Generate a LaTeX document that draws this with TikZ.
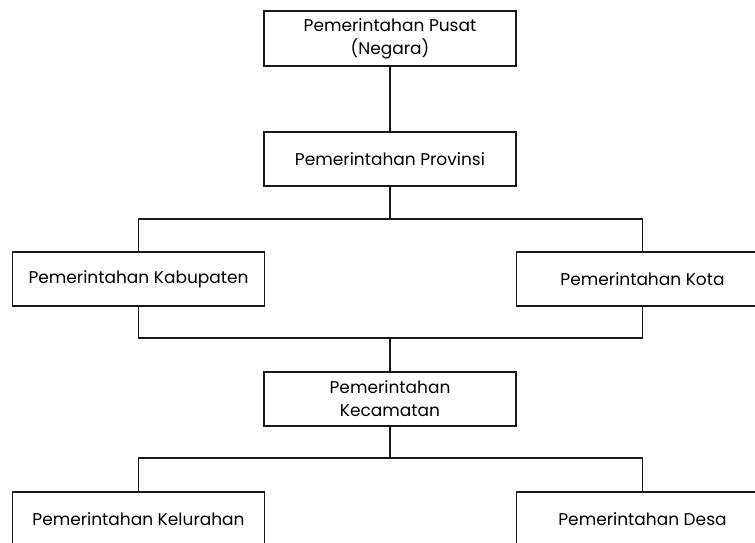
\documentclass[tikz,border=0pt]{standalone}
\usepackage{fontspec}
\setmainfont{Poppins}
\begin{document}
\begin{tikzpicture}[x=1pt,y=-1pt,
  box/.style={draw=black!90, line width=1.8pt, fill=white, minimum width=252pt, minimum height=54pt, align=center, inner sep=0pt, font=\fontsize{17}{23}\selectfont},
  conn/.style={draw=black!90, line width=1.8pt}]
\useasboundingbox (0,0) rectangle (755,543);
\clip (0,0) rectangle (755,543);
\node[box, minimum height=55pt] (pusat) at (390,38.5) {Pemerintahan Pusat\\(Negara)};
\node[box] (prov) at (390,159) {Pemerintahan Provinsi};
\node[box] (kab) at (138.5,279) {Pemerintahan Kabupaten};
\node[box] (kota) at (642.5,279) {Pemerintahan Kota};
\node[box] (kec) at (390,399) {Pemerintahan\\Kecamatan};
\node[box] (kel) at (138.5,519) {Pemerintahan Kelurahan};
\node[box] (desa) at (642.5,519) {Pemerintahan Desa};
\coordinate (j1) at (390,219);
\coordinate (j2) at (390,338);
\coordinate (j3) at (390,458);
\draw[conn] (pusat.south) -- (prov.north);
\draw[conn] (prov.south) -- (j1);
\draw[conn] (kab.north) |- (j1) -| (kota.north);
\draw[conn] (kab.south) |- (j2) -| (kota.south);
\draw[conn] (j2) -- (kec.north);
\draw[conn] (kec.south) -- (j3);
\draw[conn] (kel.north) |- (j3) -| (desa.north);
\end{tikzpicture}
\end{document}
